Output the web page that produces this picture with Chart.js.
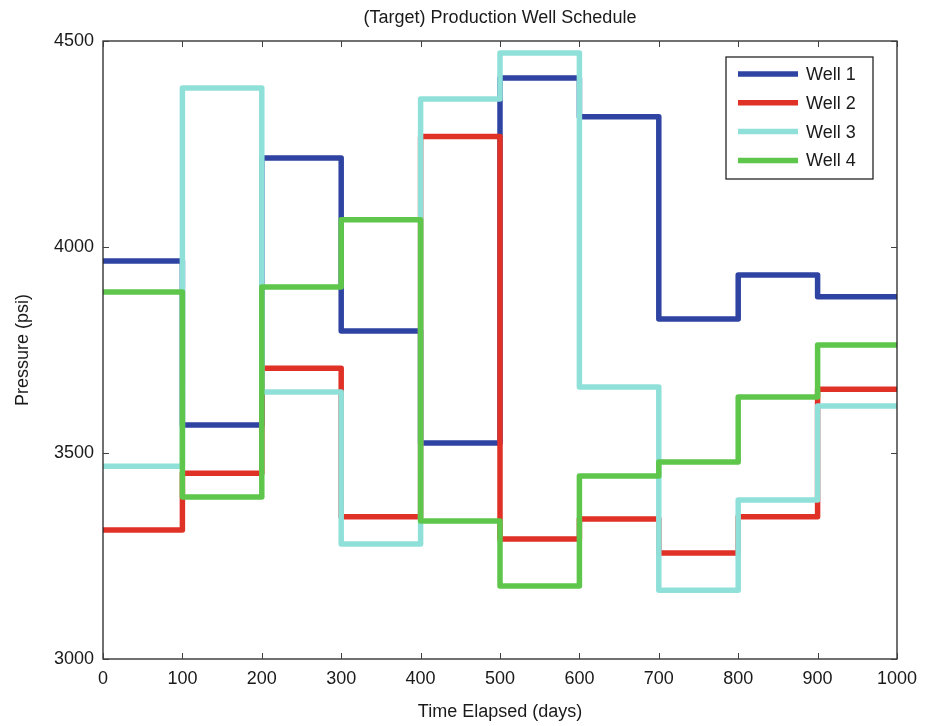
<!DOCTYPE html>
<html>
<head>
<meta charset="utf-8">
<script src="https://cdn.jsdelivr.net/npm/chart.js@4/dist/chart.umd.min.js"></script>
<style>
  html, body { margin: 0; padding: 0; background: #fff; }
  #wrap { width: 933px; height: 726px; position: relative; }
</style>
</head>
<body>
<div id="wrap"><canvas id="chart"></canvas></div>
<script>
// time steps (days), last point repeats the final level so the step reaches 1000
const days = [0, 100, 200, 300, 400, 500, 600, 700, 800, 900, 1000];

const well1 = [3966, 3568, 4216, 3796, 3524, 4410, 4316, 3825, 3932, 3879, 3879];
const well2 = [3313, 3451, 3706, 3345, 4268, 3291, 3340, 3257, 3345, 3655, 3655];
const well3 = [3468, 4386, 3648, 3279, 4359, 4471, 3660, 3167, 3386, 3614, 3614];
const well4 = [3891, 3393, 3903, 4066, 3335, 3177, 3444, 3478, 3636, 3762, 3762];

const labels = ['Well 1', 'Well 2', 'Well 3', 'Well 4'];
const colors = ['#2f44a2', '#e03127', '#90e0da', '#5ec64b'];

const xTicks = [0, 100, 200, 300, 400, 500, 600, 700, 800, 900, 1000];
const yTicks = [3000, 3500, 4000, 4500];

const FONT = '"Liberation Sans", Arial, Helvetica, sans-serif';

function pts(vals) {
  return days.map((d, i) => ({ x: d, y: vals[i] }));
}

// MATLAB-style box, inward ticks, titles and legend
const matlabBox = {
  id: 'matlabBox',
  afterDatasetsDraw(chart) {
    const ctx = chart.ctx;
    const a = chart.chartArea;
    const xs = chart.scales.x, ys = chart.scales.y;
    ctx.save();
    ctx.strokeStyle = '#262626';
    ctx.lineWidth = 1.3;
    ctx.strokeRect(a.left, a.top, a.right - a.left, a.bottom - a.top);

    ctx.lineWidth = 1;
    ctx.strokeStyle = '#404040';
    const tl = 6;
    xTicks.forEach(v => {
      const px = Math.round(xs.getPixelForValue(v)) + 0.5;
      ctx.beginPath();
      ctx.moveTo(px, a.bottom); ctx.lineTo(px, a.bottom - tl);
      ctx.moveTo(px, a.top); ctx.lineTo(px, a.top + tl);
      ctx.stroke();
    });
    yTicks.forEach(v => {
      const py = Math.round(ys.getPixelForValue(v)) + 0.5;
      ctx.beginPath();
      ctx.moveTo(a.left, py); ctx.lineTo(a.left + tl, py);
      ctx.moveTo(a.right, py); ctx.lineTo(a.right - tl, py);
      ctx.stroke();
    });

    // titles
    ctx.fillStyle = '#1a1a1a';
    ctx.font = '18px ' + FONT;
    ctx.textAlign = 'center';
    ctx.textBaseline = 'middle';
    ctx.fillText('(Target) Production Well Schedule', (a.left + a.right) / 2, 18);
    ctx.fillText('Time Elapsed (days)', (a.left + a.right) / 2, 712);
    ctx.save();
    ctx.translate(23, (a.top + a.bottom) / 2);
    ctx.rotate(-Math.PI / 2);
    ctx.fillText('Pressure (psi)', 0, 0);
    ctx.restore();

    // legend box
    const lx = 726, ly = 57, lw = 147, lh = 122;
    ctx.fillStyle = '#fff';
    ctx.fillRect(lx, ly, lw, lh);
    ctx.strokeStyle = '#262626';
    ctx.lineWidth = 1.3;
    ctx.strokeRect(lx, ly, lw, lh);
    ctx.font = '18px ' + FONT;
    ctx.textAlign = 'left';
    chart.data.datasets.forEach((ds, i) => {
      const ry = 74 + i * 28.8;
      ctx.strokeStyle = ds.borderColor;
      ctx.lineWidth = 5.5;
      ctx.beginPath();
      ctx.moveTo(738, ry); ctx.lineTo(798, ry);
      ctx.stroke();
      ctx.fillStyle = '#1a1a1a';
      ctx.fillText(ds.label, 806, ry + 1);
    });
    ctx.restore();
  }
};

const series = [well1, well2, well3, well4];

new Chart(document.getElementById('chart'), {
  type: 'line',
  data: {
    datasets: series.map((vals, i) => ({
      label: labels[i],
      data: pts(vals),
      borderColor: colors[i],
      backgroundColor: colors[i],
      borderWidth: 5.5,
      stepped: 'before',
      pointRadius: 0,
      fill: false,
      borderJoinStyle: 'round',
      borderCapStyle: 'butt',
      order: 4 - i
    }))
  },
  options: {
    responsive: true,
    maintainAspectRatio: false,
    animation: false,
    layout: { padding: { top: 41, right: 36, left: 0, bottom: 0 } },
    plugins: {
      legend: { display: false },
      title: { display: false },
      tooltip: { enabled: false }
    },
    scales: {
      x: {
        type: 'linear',
        min: 0,
        max: 1000,
        afterBuildTicks: s => { s.ticks = xTicks.map(v => ({ value: v })); },
        afterFit: s => { s.height = 67; },
        grid: { display: false, drawTicks: false },
        border: { display: false },
        ticks: {
          color: '#1a1a1a',
          font: { family: FONT, size: 18 },
          padding: 9,
          maxRotation: 0,
          callback: v => String(v)
        }
      },
      y: {
        type: 'linear',
        min: 3000,
        max: 4500,
        afterBuildTicks: s => { s.ticks = yTicks.map(v => ({ value: v })); },
        afterFit: s => { s.width = 103; },
        grid: { display: false, drawTicks: false },
        border: { display: false },
        ticks: {
          color: '#1a1a1a',
          font: { family: FONT, size: 18 },
          padding: 9,
          callback: v => String(v)
        }
      }
    }
  },
  plugins: [matlabBox]
});
</script>
</body>
</html>
